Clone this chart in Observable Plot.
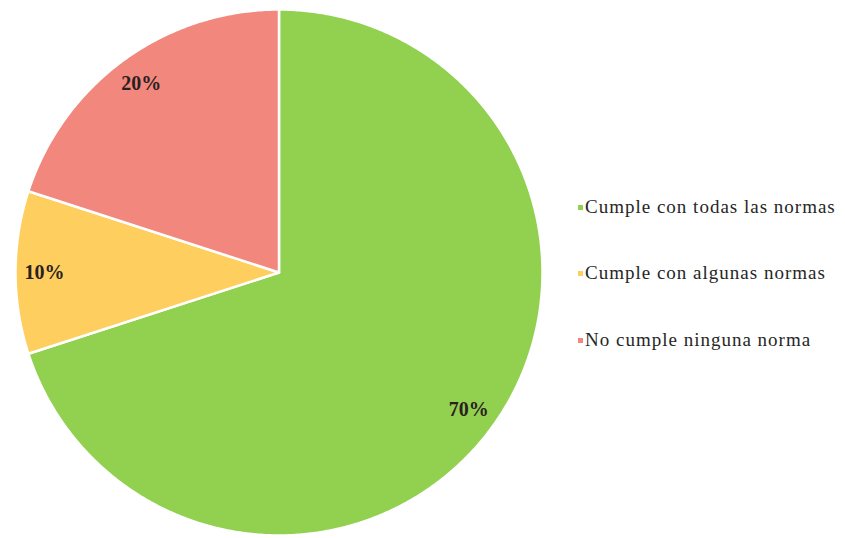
<!DOCTYPE html>
<html>
<head>
<meta charset="utf-8">
<script src="https://cdn.jsdelivr.net/npm/d3@7"></script>
<script src="https://cdn.jsdelivr.net/npm/@observablehq/plot@0.6"></script>
<style>
  body { margin: 0; background: #fff; }
  #chart { position: relative; width: 845px; height: 538px; }
  #chart svg { position: absolute; left: 0; top: 0; }
  .legend-item {
    position: absolute; left: 578px; height: 24px;
    display: flex; align-items: center;
    font-family: "Liberation Serif", "Times New Roman", serif;
    font-size: 19px; letter-spacing: 1px; color: #262626; white-space: nowrap;
  }
  .legend-item .sw { width: 5px; height: 5px; margin-right: 2px; flex: none; }
</style>
</head>
<body>
<div id="chart"></div>
<script>
// Survey result: level of compliance with the norms
const categories = ["Cumple con todas las normas", "Cumple con algunas normas", "No cumple ninguna norma"];
const shares = [70, 10, 20];
const valueLabels = ["70%", "10%", "20%"];
const sliceColors = ["#92D050", "#FECF5E", "#F1877D"];

// Slice angles, clockwise from 12 o'clock, in data order
const arcs = d3.pie().sort(null).value(d => d)(shares);

// Each slice as a closed polygon in unit-circle coordinates
const slices = arcs.flatMap((a, i) => {
  const name = categories[i];
  const steps = Math.max(2, Math.ceil((a.endAngle - a.startAngle) / (Math.PI / 360)));
  const pts = [{name, x: 0, y: 0}];
  for (let k = 0; k <= steps; k++) {
    const t = a.startAngle + (a.endAngle - a.startAngle) * k / steps;
    pts.push({name, x: Math.sin(t), y: Math.cos(t)});
  }
  pts.push({name, x: 0, y: 0});
  return pts;
});

// Percentage labels placed inside each slice at its mid angle
const labels = arcs.map((a, i) => {
  const m = (a.startAngle + a.endAngle) / 2;
  const r = 0.89;
  return {text: valueLabels[i], x: r * Math.sin(m), y: r * Math.cos(m)};
});

const chart = Plot.plot({
  width: 845,
  height: 538,
  margin: 0,
  x: {domain: [-1, 1], range: [15, 542], axis: null},
  y: {domain: [-1, 1], range: [535, 9], axis: null},
  color: {domain: categories, range: sliceColors},
  marks: [
    Plot.line(slices, {x: "x", y: "y", z: "name", fill: "name", stroke: "#fff", strokeWidth: 2.5, strokeLinejoin: "round", curve: "linear"}),
    Plot.text(labels, {x: "x", y: "y", text: "text", fontFamily: "Liberation Serif, serif", fontWeight: "bold", fontSize: 20, fill: "#2a2020"})
  ]
});

const root = document.getElementById("chart");
root.appendChild(chart);

// Legend to the right of the pie
const legendY = [195, 261, 328];
categories.forEach((c, i) => {
  const item = document.createElement("div");
  item.className = "legend-item";
  item.style.top = legendY[i] + "px";
  const sw = document.createElement("span");
  sw.className = "sw";
  sw.style.background = sliceColors[i];
  const tx = document.createElement("span");
  tx.textContent = c;
  item.append(sw, tx);
  root.appendChild(item);
});
</script>
</body>
</html>
